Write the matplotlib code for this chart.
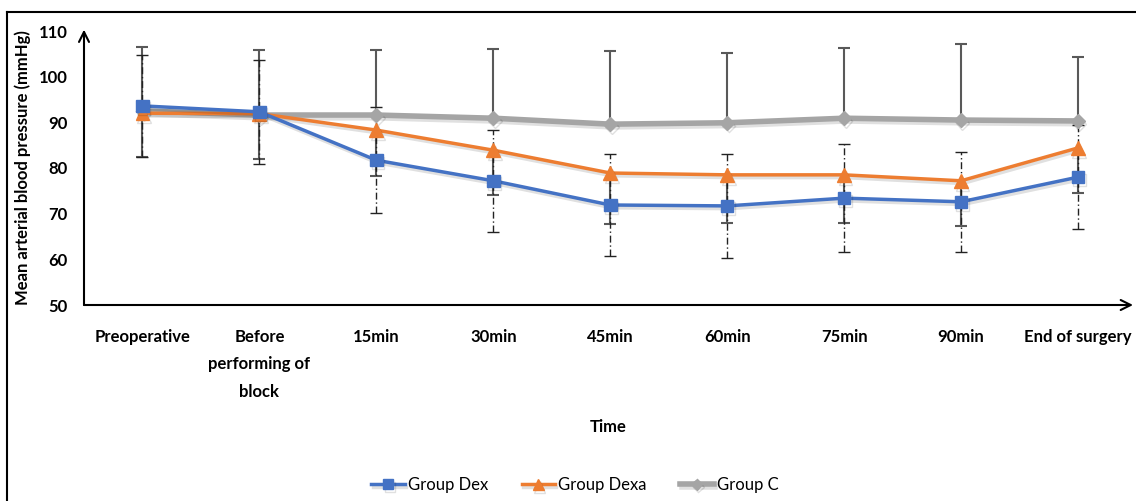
import matplotlib
matplotlib.use("Agg")
import matplotlib.pyplot as plt
import matplotlib.patheffects as pe
from matplotlib.lines import Line2D
import numpy as np

plt.rcParams['font.family'] = ['Lato', 'DejaVu Sans']

times = ["Preoperative", "Before\nperforming of\nblock", "15min", "30min", "45min",
         "60min", "75min", "90min", "End of surgery"]

dex = [93.6, 92.3, 81.7, 77.2, 71.9, 71.7, 73.4, 72.6, 78.0]
dexa = [92.0, 91.9, 88.3, 83.9, 78.9, 78.5, 78.5, 77.2, 84.4]
grp_c = [92.5, 91.6, 91.6, 90.9, 89.6, 89.9, 90.9, 90.5, 90.3]

dex_sd = [11.2, 11.4, 11.6, 11.2, 11.2, 11.4, 11.9, 10.9, 11.4]
dexa_sd = [9.6, 9.9, 10.1, 9.9, 11.2, 10.5, 10.5, 9.9, 9.9]
c_sd = [14.0, 14.2, 14.2, 15.1, 16.0, 15.3, 15.3, 16.6, 14.0]

blue = '#4472C4'
orange = '#ED7D31'
gray = '#A5A5A5'

fig = plt.figure(figsize=(11.36, 5.01), dpi=100)
W, H = 1136, 501
ax = fig.add_axes([84 / W, (H - 305) / H, (1133 - 84) / W, (305 - 31) / H])

x = np.arange(len(times))
zeros = np.zeros(len(times))

# error bars
eb = ax.errorbar(x, grp_c, yerr=[zeros, c_sd], fmt='none', ecolor='#595959',
                 elinewidth=1.5, capsize=4, capthick=1.5, zorder=2)
eb[1][0].set_visible(False)
eb = ax.errorbar(x, dexa, yerr=[dexa_sd, zeros], fmt='none', ecolor='#595959',
                 elinewidth=1.5, capsize=4, capthick=1.5, zorder=2)
eb[1][1].set_visible(False)
eb = ax.errorbar(x, dex, yerr=dex_sd, fmt='none', ecolor='#222222',
                 elinewidth=1.0, capsize=4, capthick=1.0, zorder=2.1)
eb[2][0].set_linestyle((0, (5, 2, 1, 2)))

shadow = [pe.SimpleLineShadow(offset=(1, -2), shadow_color='black', alpha=0.12),
          pe.Normal()]

ax.plot(x, grp_c, color=gray, lw=4, marker='D', ms=7, label='Group C',
        zorder=3, path_effects=shadow)
ax.plot(x, dexa, color=orange, lw=2.5, marker='^', ms=10, label='Group Dexa',
        zorder=4, path_effects=shadow)
ax.plot(x, dex, color=blue, lw=2.5, marker='s', ms=9, label='Group Dex',
        zorder=5, path_effects=shadow)

ax.set_xlim(-0.5, 8.47)
ax.set_ylim(50, 110)
ax.set_yticks(range(50, 111, 10))
ax.set_xticks(x)
ax.set_xticklabels(times, linespacing=1.9)
ax.tick_params(length=0, labelsize=12)
ax.tick_params(axis='x', pad=17)
ax.tick_params(axis='y', pad=12)
for lab in ax.get_xticklabels() + ax.get_yticklabels():
    lab.set_fontweight('bold')

for s in ax.spines.values():
    s.set_visible(False)
ax.annotate('', xy=(0, 1.005), xytext=(0, 0), xycoords='axes fraction',
            arrowprops=dict(arrowstyle='->', lw=1.5, color='black',
                            mutation_scale=18, shrinkA=0, shrinkB=0))
ax.annotate('', xy=(1.0, 0), xytext=(0, 0), xycoords='axes fraction',
            arrowprops=dict(arrowstyle='->', lw=1.5, color='black',
                            mutation_scale=18, shrinkA=0, shrinkB=0))

ax.set_ylabel('Mean arterial blood pressure (mmHg)', fontsize=12, fontweight='bold')
ax.yaxis.set_label_coords((31 - 84) / 1049, 0.5)
ax.set_xlabel('Time', fontsize=12, fontweight='bold', labelpad=14)

handles, labels = ax.get_legend_handles_labels()
order = [2, 1, 0]
fig.legend([handles[i] for i in order], [labels[i] for i in order],
           loc='center', bbox_to_anchor=(575 / W, (H - 485) / H), ncol=3,
           frameon=False, fontsize=12, handlelength=2.0, columnspacing=2.0,
           handletextpad=0.2, markerscale=0.8)

# outer frame
fig.add_artist(Line2D([7 / W, 7 / W], [0, (H - 12) / H], color='black', lw=1.5))
fig.add_artist(Line2D([7 / W, 1], [(H - 12) / H, (H - 12) / H], color='black', lw=1.5))

fig.savefig('out.png', dpi=100)
